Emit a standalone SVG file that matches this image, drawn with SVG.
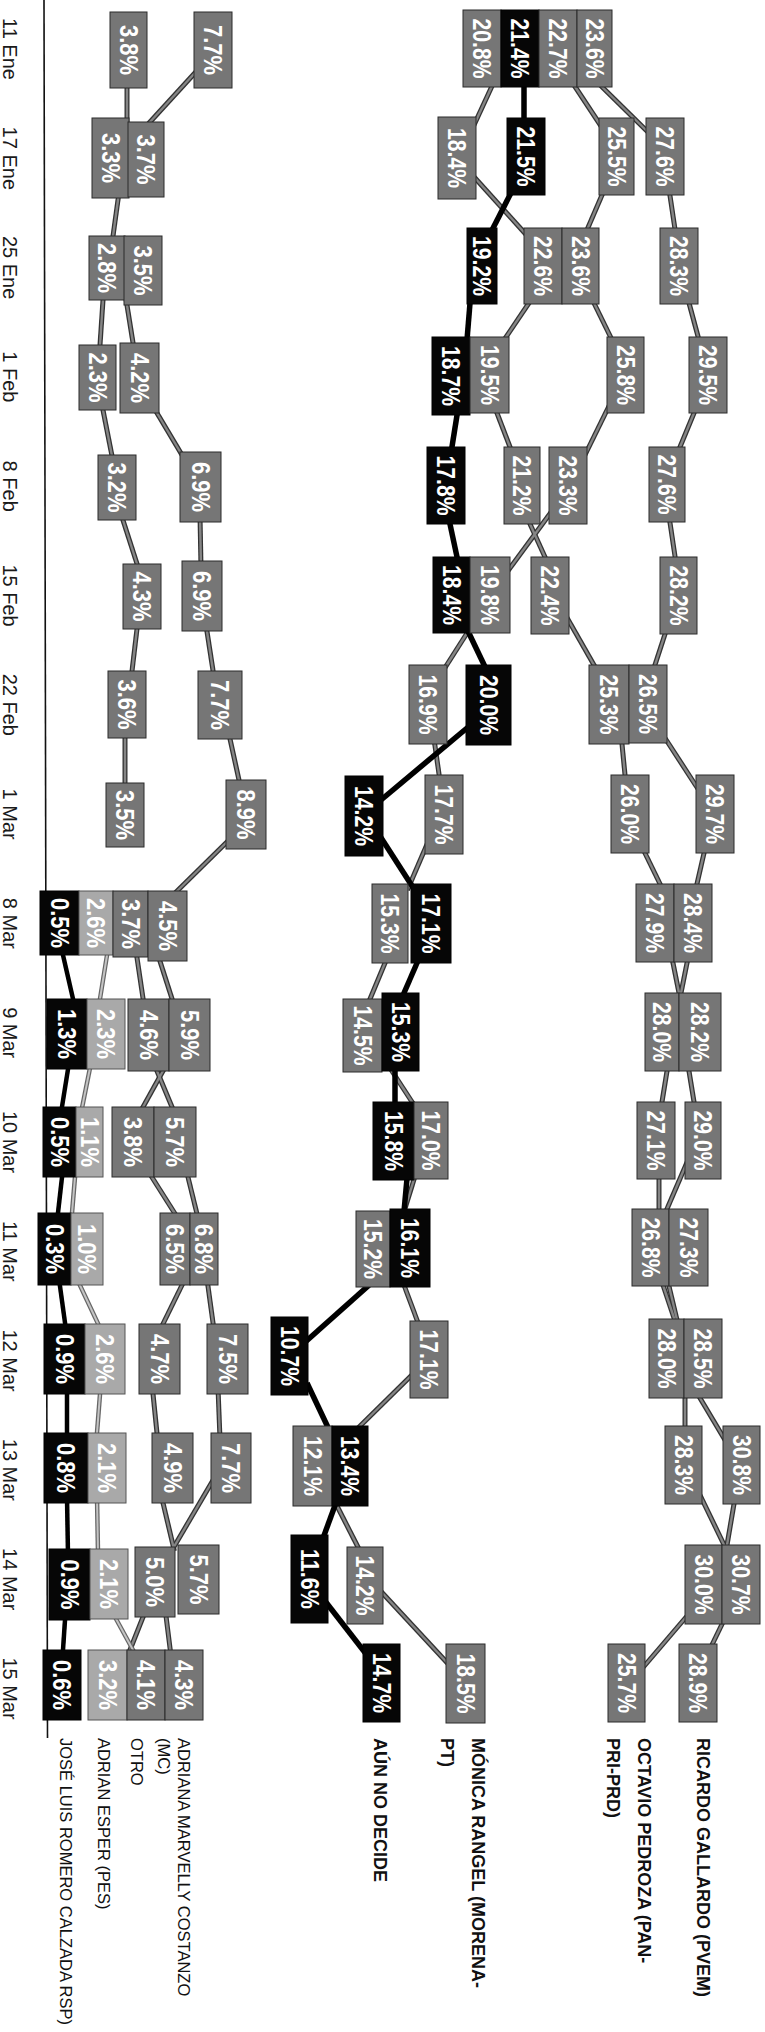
<svg xmlns="http://www.w3.org/2000/svg" xmlns:xlink="http://www.w3.org/1999/xlink" width="765" height="2032" viewBox="0 0 765 2032">
<style>
.g{fill:#767676;stroke:#2b2b2b;stroke-width:1}
.lg{fill:#a9a9a9;stroke:#555;stroke-width:1}
.k{fill:#060606;stroke:#000;stroke-width:1}
.t{font-family:"Liberation Sans",Arial,sans-serif;font-weight:bold;font-size:25px;fill:#fff;text-anchor:middle;dominant-baseline:central}
.d{font-family:"Liberation Sans",Arial,sans-serif;font-size:20px;fill:#1a1a1a;text-anchor:middle;dominant-baseline:central}
.lb{font-family:"Liberation Sans",Arial,sans-serif;font-size:18px;font-weight:bold;fill:#111;dominant-baseline:central}
.ls{font-family:"Liberation Sans",Arial,sans-serif;font-size:16.5px;fill:#111;dominant-baseline:central}
</style>
<defs>
<g id="grayLines">
<line x1="127" y1="82" x2="127" y2="124"/>
<line x1="198.5" y1="69" x2="144.5" y2="128"/>
<line x1="118.8" y1="194" x2="112.2" y2="242"/>
<line x1="103.4" y1="294" x2="99.6" y2="351"/>
<line x1="126" y1="299" x2="134" y2="349"/>
<line x1="101.8" y1="404" x2="113.2" y2="462"/>
<line x1="153.4" y1="407" x2="185.6" y2="461"/>
<line x1="121" y1="514" x2="139" y2="570"/>
<line x1="200" y1="516" x2="201" y2="567"/>
<line x1="137.7" y1="623" x2="131.3" y2="677"/>
<line x1="206" y1="625" x2="214" y2="677"/>
<line x1="125" y1="732" x2="125" y2="789"/>
<line x1="228.7" y1="733" x2="240.3" y2="786"/>
<line x1="231" y1="838" x2="171" y2="897"/>
<line x1="136" y1="951" x2="144" y2="1005"/>
<line x1="158" y1="955" x2="174" y2="1005"/>
<line x1="166.3" y1="1065" x2="139.7" y2="1113"/>
<line x1="154.5" y1="1065" x2="174.5" y2="1113"/>
<line x1="148" y1="1171" x2="179" y2="1220"/>
<line x1="186.5" y1="1171" x2="198.5" y2="1220"/>
<line x1="185" y1="1279" x2="160" y2="1330"/>
<line x1="207" y1="1279" x2="214" y2="1330"/>
<line x1="152.4" y1="1388" x2="157.6" y2="1439"/>
<line x1="218" y1="1388" x2="220" y2="1439"/>
<line x1="161.6" y1="1497" x2="174.4" y2="1551"/>
<line x1="215.5" y1="1476" x2="171.5" y2="1551"/>
<line x1="145.4" y1="1611" x2="127.6" y2="1656"/>
<line x1="165" y1="1608" x2="171" y2="1656"/>
<line x1="494.8" y1="80" x2="472.2" y2="129"/>
<line x1="469.6" y1="172" x2="527.4" y2="236"/>
<line x1="533" y1="297" x2="500" y2="346"/>
<line x1="494.7" y1="407" x2="512.3" y2="453"/>
<line x1="527.3" y1="518" x2="547.7" y2="563"/>
<line x1="553.4" y1="509" x2="505.6" y2="574"/>
<line x1="469" y1="630" x2="441" y2="674"/>
<line x1="434" y1="739" x2="440" y2="781"/>
<line x1="427.6" y1="843" x2="407.4" y2="890"/>
<line x1="387.5" y1="957" x2="367.5" y2="1005"/>
<line x1="388" y1="1065" x2="416" y2="1108"/>
<line x1="416" y1="1173" x2="403" y2="1215"/>
<line x1="401" y1="1277" x2="420" y2="1328"/>
<line x1="420" y1="1367" x2="355" y2="1431"/>
<line x1="335" y1="1502" x2="361" y2="1553"/>
<line x1="375" y1="1585" x2="452" y2="1668"/>
<line x1="570" y1="79" x2="601" y2="126"/>
<line x1="594" y1="79" x2="655" y2="139"/>
<line x1="604.6" y1="189" x2="584.4" y2="236"/>
<line x1="669" y1="189" x2="676" y2="236"/>
<line x1="591" y1="297" x2="615" y2="346"/>
<line x1="687.4" y1="297" x2="700.6" y2="346"/>
<line x1="610" y1="404" x2="582" y2="461"/>
<line x1="696.5" y1="407" x2="677.5" y2="453"/>
<line x1="669" y1="516" x2="676" y2="563"/>
<line x1="566.6" y1="617" x2="597.4" y2="671"/>
<line x1="667" y1="628" x2="653" y2="671"/>
<line x1="621.4" y1="738" x2="625.6" y2="781"/>
<line x1="663" y1="735" x2="700" y2="792"/>
<line x1="642" y1="847" x2="663" y2="890"/>
<line x1="705.4" y1="847" x2="695.6" y2="890"/>
<line x1="672" y1="958" x2="680" y2="998"/>
<line x1="688" y1="958" x2="680" y2="998"/>
<line x1="668" y1="1065" x2="661" y2="1108"/>
<line x1="688" y1="1065" x2="695" y2="1108"/>
<line x1="659" y1="1173" x2="659" y2="1215"/>
<line x1="687.6" y1="1161" x2="664.4" y2="1215"/>
<line x1="662" y1="1282" x2="676" y2="1324"/>
<line x1="668" y1="1282" x2="678" y2="1324"/>
<line x1="685" y1="1392" x2="685" y2="1432"/>
<line x1="696.4" y1="1392" x2="725.6" y2="1441"/>
<line x1="699" y1="1493" x2="727" y2="1551"/>
<line x1="735" y1="1498" x2="726" y2="1551"/>
<line x1="687" y1="1616" x2="640" y2="1671"/>
<line x1="725" y1="1618" x2="709" y2="1651"/>
</g>
<g id="lightLines">
<line x1="108" y1="949" x2="99" y2="1005"/>
<line x1="91" y1="1063" x2="81" y2="1113"/>
<line x1="75.5" y1="1171" x2="71.5" y2="1219"/>
<line x1="77" y1="1279" x2="101" y2="1330"/>
<line x1="100.5" y1="1388" x2="96.5" y2="1439"/>
<line x1="97" y1="1497" x2="98" y2="1553"/>
<line x1="111.7" y1="1611" x2="136.3" y2="1656"/>
</g>
</defs>
<g id="axis">
<line x1="44" y1="0" x2="47.5" y2="1738" stroke="#111" stroke-width="1.6"/>
</g>
<g id="connectors" fill="none" stroke-linecap="butt">
<use xlink:href="#grayLines" href="#grayLines" stroke="#333" stroke-width="5"/>
<use xlink:href="#grayLines" href="#grayLines" stroke="#858585" stroke-width="2.4"/>
<use xlink:href="#lightLines" href="#lightLines" stroke="#666" stroke-width="4.5"/>
<use xlink:href="#lightLines" href="#lightLines" stroke="#c4c4c4" stroke-width="2"/>
<g id="joseLuisLine" stroke="#000" stroke-width="4.5">
<line x1="61.6" y1="949" x2="74.4" y2="1005"/>
<line x1="69" y1="1063" x2="61" y2="1113"/>
<line x1="62.7" y1="1171" x2="57.3" y2="1219"/>
<line x1="59" y1="1279" x2="66" y2="1330"/>
<line x1="67" y1="1388" x2="67" y2="1439"/>
<line x1="67" y1="1497" x2="68" y2="1555"/>
<line x1="65.4" y1="1614" x2="62.6" y2="1656"/>
</g>
<g id="aunLine" stroke="#000" stroke-width="5.5">
<line x1="524" y1="80" x2="524" y2="124"/>
<line x1="513" y1="189" x2="489" y2="236"/>
<line x1="470.5" y1="297" x2="466.5" y2="346"/>
<line x1="458" y1="409" x2="451" y2="453"/>
<line x1="448.7" y1="518" x2="458.3" y2="563"/>
<line x1="466" y1="627" x2="487" y2="671"/>
<line x1="473" y1="723" x2="375" y2="805"/>
<line x1="378" y1="833" x2="414" y2="889"/>
<line x1="419.6" y1="957" x2="401.4" y2="999"/>
<line x1="395" y1="1065" x2="395" y2="1108"/>
<line x1="407.5" y1="1173" x2="403.5" y2="1217"/>
<line x1="395" y1="1262" x2="294" y2="1352"/>
<line x1="307" y1="1383" x2="333" y2="1438"/>
<line x1="337" y1="1500" x2="322" y2="1541"/>
<line x1="318" y1="1592" x2="370" y2="1659"/>
</g>
</g>
<g id="dates">
<text class="d" transform="translate(10,49) rotate(90)">11 Ene</text>
<text class="d" transform="translate(10,158.3) rotate(90)">17 Ene</text>
<text class="d" transform="translate(10,267.6) rotate(90)">25 Ene</text>
<text class="d" transform="translate(10,376.9) rotate(90)">1 Feb</text>
<text class="d" transform="translate(10,486.2) rotate(90)">8 Feb</text>
<text class="d" transform="translate(10,595.5) rotate(90)">15 Feb</text>
<text class="d" transform="translate(10,704.8) rotate(90)">22 Feb</text>
<text class="d" transform="translate(10,814.1) rotate(90)">1 Mar</text>
<text class="d" transform="translate(10,923.4) rotate(90)">8 Mar</text>
<text class="d" transform="translate(10,1032.7) rotate(90)">9 Mar</text>
<text class="d" transform="translate(10,1142) rotate(90)">10 Mar</text>
<text class="d" transform="translate(10,1251.3) rotate(90)">11 Mar</text>
<text class="d" transform="translate(10,1360.6) rotate(90)">12 Mar</text>
<text class="d" transform="translate(10,1469.9) rotate(90)">13 Mar</text>
<text class="d" transform="translate(10,1579.2) rotate(90)">14 Mar</text>
<text class="d" transform="translate(10,1688.5) rotate(90)">15 Mar</text>
</g>
<g id="nodes">
<g id="n0a"><rect class="g" x="110" y="12" width="37" height="76"/><text class="t" transform="translate(128.5,50) rotate(90)" textLength="50" lengthAdjust="spacingAndGlyphs">3.8%</text></g>
<g id="n0b"><rect class="g" x="194" y="12" width="38" height="76"/><text class="t" transform="translate(213,50) rotate(90)" textLength="50" lengthAdjust="spacingAndGlyphs">7.7%</text></g>
<g id="n0c"><rect class="g" x="463" y="10" width="38" height="77"/><text class="t" transform="translate(482,48.5) rotate(90)" textLength="60" lengthAdjust="spacingAndGlyphs">20.8%</text></g>
<g id="n0d"><rect class="k" x="501" y="10" width="38" height="77"/><text class="t" transform="translate(520,48.5) rotate(90)" textLength="60" lengthAdjust="spacingAndGlyphs">21.4%</text></g>
<g id="n0e"><rect class="g" x="539" y="10" width="38" height="77"/><text class="t" transform="translate(558,48.5) rotate(90)" textLength="60" lengthAdjust="spacingAndGlyphs">22.7%</text></g>
<g id="n0f"><rect class="g" x="577" y="10" width="35" height="77"/><text class="t" transform="translate(594.5,48.5) rotate(90)" textLength="60" lengthAdjust="spacingAndGlyphs">23.6%</text></g>

<g id="n1a"><rect class="g" x="92" y="118" width="37" height="80"/><text class="t" transform="translate(110.5,158) rotate(90)" textLength="50" lengthAdjust="spacingAndGlyphs">3.3%</text></g>
<g id="n1b"><rect class="g" x="128" y="122" width="36" height="75"/><text class="t" transform="translate(146,159.5) rotate(90)" textLength="50" lengthAdjust="spacingAndGlyphs">3.7%</text></g>
<g id="n1c"><rect class="g" x="438" y="117" width="38" height="82"/><text class="t" transform="translate(457,158) rotate(90)" textLength="60" lengthAdjust="spacingAndGlyphs">18.4%</text></g>
<g id="n1d"><rect class="k" x="507" y="118" width="38" height="77"/><text class="t" transform="translate(526,156.5) rotate(90)" textLength="60" lengthAdjust="spacingAndGlyphs">21.5%</text></g>
<g id="n1e"><rect class="g" x="599" y="118" width="35" height="77"/><text class="t" transform="translate(616.5,156.5) rotate(90)" textLength="60" lengthAdjust="spacingAndGlyphs">25.5%</text></g>
<g id="n1f"><rect class="g" x="646" y="118" width="38" height="77"/><text class="t" transform="translate(665,156.5) rotate(90)" textLength="60" lengthAdjust="spacingAndGlyphs">27.6%</text></g>

<g id="n2a"><rect class="g" x="89" y="236" width="36" height="64"/><text class="t" transform="translate(107,268) rotate(90)" textLength="50" lengthAdjust="spacingAndGlyphs">2.8%</text></g>
<g id="n2b"><rect class="g" x="124" y="236" width="38" height="69"/><text class="t" transform="translate(143,270.5) rotate(90)" textLength="50" lengthAdjust="spacingAndGlyphs">3.5%</text></g>
<g id="n2c"><rect class="k" x="467" y="228" width="30" height="76"/><text class="t" transform="translate(482,266) rotate(90)" textLength="60" lengthAdjust="spacingAndGlyphs">19.2%</text></g>
<g id="n2d"><rect class="g" x="524" y="228" width="38" height="76"/><text class="t" transform="translate(543,266) rotate(90)" textLength="60" lengthAdjust="spacingAndGlyphs">22.6%</text></g>
<g id="n2e"><rect class="g" x="562" y="228" width="37" height="76"/><text class="t" transform="translate(580.5,266) rotate(90)" textLength="60" lengthAdjust="spacingAndGlyphs">23.6%</text></g>
<g id="n2f"><rect class="g" x="660" y="228" width="38" height="76"/><text class="t" transform="translate(679,266) rotate(90)" textLength="60" lengthAdjust="spacingAndGlyphs">28.3%</text></g>

<g id="n3a"><rect class="g" x="79" y="345" width="37" height="65"/><text class="t" transform="translate(97.5,377.5) rotate(90)" textLength="50" lengthAdjust="spacingAndGlyphs">2.3%</text></g>
<g id="n3b"><rect class="g" x="120" y="343" width="39" height="70"/><text class="t" transform="translate(139.5,378) rotate(90)" textLength="50" lengthAdjust="spacingAndGlyphs">4.2%</text></g>
<g id="n3c"><rect class="k" x="432" y="337" width="38" height="78"/><text class="t" transform="translate(451,376) rotate(90)" textLength="60" lengthAdjust="spacingAndGlyphs">18.7%</text></g>
<g id="n3d"><rect class="g" x="470" y="337" width="39" height="76"/><text class="t" transform="translate(489.5,375) rotate(90)" textLength="60" lengthAdjust="spacingAndGlyphs">19.5%</text></g>
<g id="n3e"><rect class="g" x="607" y="337" width="37" height="76"/><text class="t" transform="translate(625.5,375) rotate(90)" textLength="60" lengthAdjust="spacingAndGlyphs">25.8%</text></g>
<g id="n3f"><rect class="g" x="689" y="337" width="38" height="76"/><text class="t" transform="translate(708,375) rotate(90)" textLength="60" lengthAdjust="spacingAndGlyphs">29.5%</text></g>

<g id="n4a"><rect class="g" x="98" y="455" width="38" height="65"/><text class="t" transform="translate(117,487.5) rotate(90)" textLength="50" lengthAdjust="spacingAndGlyphs">3.2%</text></g>
<g id="n4b"><rect class="g" x="180" y="452" width="41" height="70"/><text class="t" transform="translate(200.5,487) rotate(90)" textLength="50" lengthAdjust="spacingAndGlyphs">6.9%</text></g>
<g id="n4c"><rect class="k" x="427" y="447" width="38" height="77"/><text class="t" transform="translate(446,485.5) rotate(90)" textLength="60" lengthAdjust="spacingAndGlyphs">17.8%</text></g>
<g id="n4d"><rect class="g" x="504" y="447" width="36" height="77"/><text class="t" transform="translate(522,485.5) rotate(90)" textLength="60" lengthAdjust="spacingAndGlyphs">21.2%</text></g>
<g id="n4e"><rect class="g" x="549" y="447" width="38" height="77"/><text class="t" transform="translate(568,485.5) rotate(90)" textLength="60" lengthAdjust="spacingAndGlyphs">23.3%</text></g>
<g id="n4f"><rect class="g" x="649" y="447" width="36" height="75"/><text class="t" transform="translate(667,484.5) rotate(90)" textLength="60" lengthAdjust="spacingAndGlyphs">27.6%</text></g>

<g id="n5a"><rect class="g" x="123" y="564" width="38" height="65"/><text class="t" transform="translate(142,596.5) rotate(90)" textLength="50" lengthAdjust="spacingAndGlyphs">4.3%</text></g>
<g id="n5b"><rect class="g" x="182" y="561" width="40" height="70"/><text class="t" transform="translate(202,596) rotate(90)" textLength="50" lengthAdjust="spacingAndGlyphs">6.9%</text></g>
<g id="n5c"><rect class="k" x="433" y="557" width="37" height="76"/><text class="t" transform="translate(451.5,595) rotate(90)" textLength="60" lengthAdjust="spacingAndGlyphs">18.4%</text></g>
<g id="n5d"><rect class="g" x="470" y="557" width="40" height="76"/><text class="t" transform="translate(490,595) rotate(90)" textLength="60" lengthAdjust="spacingAndGlyphs">19.8%</text></g>
<g id="n5e"><rect class="g" x="531" y="557" width="38" height="77"/><text class="t" transform="translate(550,595.5) rotate(90)" textLength="60" lengthAdjust="spacingAndGlyphs">22.4%</text></g>
<g id="n5f"><rect class="g" x="660" y="557" width="37" height="77"/><text class="t" transform="translate(678.5,595.5) rotate(90)" textLength="60" lengthAdjust="spacingAndGlyphs">28.2%</text></g>

<g id="n6a"><rect class="g" x="108" y="671" width="38" height="67"/><text class="t" transform="translate(127,704.5) rotate(90)" textLength="50" lengthAdjust="spacingAndGlyphs">3.6%</text></g>
<g id="n6b"><rect class="g" x="198" y="671" width="44" height="68"/><text class="t" transform="translate(220,705) rotate(90)" textLength="50" lengthAdjust="spacingAndGlyphs">7.7%</text></g>
<g id="n6c"><rect class="g" x="409" y="665" width="38" height="79"/><text class="t" transform="translate(428,704.5) rotate(90)" textLength="60" lengthAdjust="spacingAndGlyphs">16.9%</text></g>
<g id="n6d"><rect class="k" x="466" y="665" width="45" height="80"/><text class="t" transform="translate(488.5,705) rotate(90)" textLength="60" lengthAdjust="spacingAndGlyphs">20.0%</text></g>
<g id="n6e"><rect class="g" x="589" y="665" width="40" height="79"/><text class="t" transform="translate(609,704.5) rotate(90)" textLength="60" lengthAdjust="spacingAndGlyphs">25.3%</text></g>
<g id="n6f"><rect class="g" x="629" y="665" width="38" height="78"/><text class="t" transform="translate(648,704) rotate(90)" textLength="60" lengthAdjust="spacingAndGlyphs">26.5%</text></g>

<g id="n7a"><rect class="g" x="106" y="783" width="38" height="64"/><text class="t" transform="translate(125,815) rotate(90)" textLength="50" lengthAdjust="spacingAndGlyphs">3.5%</text></g>
<g id="n7b"><rect class="g" x="226" y="780" width="40" height="69"/><text class="t" transform="translate(246,814.5) rotate(90)" textLength="50" lengthAdjust="spacingAndGlyphs">8.9%</text></g>
<g id="n7c"><rect class="k" x="345" y="776" width="38" height="80"/><text class="t" transform="translate(364,816) rotate(90)" textLength="60" lengthAdjust="spacingAndGlyphs">14.2%</text></g>
<g id="n7d"><rect class="g" x="425" y="775" width="38" height="79"/><text class="t" transform="translate(444,814.5) rotate(90)" textLength="60" lengthAdjust="spacingAndGlyphs">17.7%</text></g>
<g id="n7e"><rect class="g" x="611" y="775" width="38" height="78"/><text class="t" transform="translate(630,814) rotate(90)" textLength="60" lengthAdjust="spacingAndGlyphs">26.0%</text></g>
<g id="n7f"><rect class="g" x="696" y="775" width="38" height="78"/><text class="t" transform="translate(715,814) rotate(90)" textLength="60" lengthAdjust="spacingAndGlyphs">29.7%</text></g>

<g id="n8a"><rect class="k" x="40" y="891" width="39" height="64"/><text class="t" transform="translate(59.5,923) rotate(90)" textLength="50" lengthAdjust="spacingAndGlyphs">0.5%</text></g>
<g id="n8b"><rect class="lg" x="79" y="891" width="34" height="64"/><text class="t" transform="translate(96,923) rotate(90)" textLength="50" lengthAdjust="spacingAndGlyphs">2.6%</text></g>
<g id="n8c"><rect class="g" x="113" y="891" width="35" height="66"/><text class="t" transform="translate(130.5,924) rotate(90)" textLength="50" lengthAdjust="spacingAndGlyphs">3.7%</text></g>
<g id="n8d"><rect class="g" x="148" y="891" width="39" height="70"/><text class="t" transform="translate(167.5,926) rotate(90)" textLength="50" lengthAdjust="spacingAndGlyphs">4.5%</text></g>
<g id="n8e"><rect class="g" x="372" y="884" width="36" height="79"/><text class="t" transform="translate(390,923.5) rotate(90)" textLength="60" lengthAdjust="spacingAndGlyphs">15.3%</text></g>
<g id="n8f"><rect class="k" x="411" y="884" width="40" height="79"/><text class="t" transform="translate(431,923.5) rotate(90)" textLength="60" lengthAdjust="spacingAndGlyphs">17.1%</text></g>
<g id="n8g"><rect class="g" x="636" y="884" width="38" height="78"/><text class="t" transform="translate(655,923) rotate(90)" textLength="60" lengthAdjust="spacingAndGlyphs">27.9%</text></g>
<g id="n8h"><rect class="g" x="674" y="884" width="38" height="78"/><text class="t" transform="translate(693,923) rotate(90)" textLength="60" lengthAdjust="spacingAndGlyphs">28.4%</text></g>

<g id="n9a"><rect class="k" x="47" y="999" width="40" height="70"/><text class="t" transform="translate(67,1034) rotate(90)" textLength="50" lengthAdjust="spacingAndGlyphs">1.3%</text></g>
<g id="n9b"><rect class="lg" x="87" y="999" width="38" height="70"/><text class="t" transform="translate(106,1034) rotate(90)" textLength="50" lengthAdjust="spacingAndGlyphs">2.3%</text></g>
<g id="n9c"><rect class="g" x="128" y="999" width="41" height="72"/><text class="t" transform="translate(148.5,1035) rotate(90)" textLength="50" lengthAdjust="spacingAndGlyphs">4.6%</text></g>
<g id="n9d"><rect class="g" x="169" y="999" width="41" height="72"/><text class="t" transform="translate(189.5,1035) rotate(90)" textLength="50" lengthAdjust="spacingAndGlyphs">5.9%</text></g>
<g id="n9e"><rect class="g" x="343" y="999" width="39" height="73"/><text class="t" transform="translate(362.5,1035.5) rotate(90)" textLength="60" lengthAdjust="spacingAndGlyphs">14.5%</text></g>
<g id="n9f"><rect class="k" x="382" y="993" width="37" height="78"/><text class="t" transform="translate(400.5,1032) rotate(90)" textLength="60" lengthAdjust="spacingAndGlyphs">15.3%</text></g>
<g id="n9g"><rect class="g" x="645" y="993" width="34" height="78"/><text class="t" transform="translate(662,1032) rotate(90)" textLength="60" lengthAdjust="spacingAndGlyphs">28.0%</text></g>
<g id="n9h"><rect class="g" x="679" y="993" width="42" height="78"/><text class="t" transform="translate(700,1032) rotate(90)" textLength="60" lengthAdjust="spacingAndGlyphs">28.2%</text></g>

<g id="n10a"><rect class="k" x="43" y="1107" width="33" height="70"/><text class="t" transform="translate(59.5,1142) rotate(90)" textLength="50" lengthAdjust="spacingAndGlyphs">0.5%</text></g>
<g id="n10b"><rect class="lg" x="76" y="1107" width="27" height="70"/><text class="t" transform="translate(89.5,1142) rotate(90)" textLength="50" lengthAdjust="spacingAndGlyphs">1.1%</text></g>
<g id="n10c"><rect class="g" x="112" y="1107" width="42" height="70"/><text class="t" transform="translate(133,1142) rotate(90)" textLength="50" lengthAdjust="spacingAndGlyphs">3.8%</text></g>
<g id="n10d"><rect class="g" x="154" y="1107" width="42" height="70"/><text class="t" transform="translate(175,1142) rotate(90)" textLength="50" lengthAdjust="spacingAndGlyphs">5.7%</text></g>
<g id="n10e"><rect class="k" x="373" y="1102" width="41" height="78"/><text class="t" transform="translate(393.5,1141) rotate(90)" textLength="60" lengthAdjust="spacingAndGlyphs">15.8%</text></g>
<g id="n10f"><rect class="g" x="414" y="1102" width="34" height="77"/><text class="t" transform="translate(431,1140.5) rotate(90)" textLength="60" lengthAdjust="spacingAndGlyphs">17.0%</text></g>
<g id="n10g"><rect class="g" x="637" y="1102" width="38" height="77"/><text class="t" transform="translate(656,1140.5) rotate(90)" textLength="60" lengthAdjust="spacingAndGlyphs">27.1%</text></g>
<g id="n10h"><rect class="g" x="685" y="1102" width="36" height="77"/><text class="t" transform="translate(703,1140.5) rotate(90)" textLength="60" lengthAdjust="spacingAndGlyphs">29.0%</text></g>

<g id="n11a"><rect class="k" x="38" y="1213" width="33" height="72"/><text class="t" transform="translate(54.5,1249) rotate(90)" textLength="50" lengthAdjust="spacingAndGlyphs">0.3%</text></g>
<g id="n11b"><rect class="lg" x="71" y="1213" width="32" height="72"/><text class="t" transform="translate(87,1249) rotate(90)" textLength="50" lengthAdjust="spacingAndGlyphs">1.0%</text></g>
<g id="n11c"><rect class="g" x="160" y="1213" width="30" height="72"/><text class="t" transform="translate(175,1249) rotate(90)" textLength="50" lengthAdjust="spacingAndGlyphs">6.5%</text></g>
<g id="n11d"><rect class="g" x="190" y="1213" width="28" height="72"/><text class="t" transform="translate(204,1249) rotate(90)" textLength="50" lengthAdjust="spacingAndGlyphs">6.8%</text></g>
<g id="n11e"><rect class="g" x="356" y="1211" width="34" height="76"/><text class="t" transform="translate(373,1249) rotate(90)" textLength="60" lengthAdjust="spacingAndGlyphs">15.2%</text></g>
<g id="n11f"><rect class="k" x="390" y="1209" width="40" height="78"/><text class="t" transform="translate(410,1248) rotate(90)" textLength="60" lengthAdjust="spacingAndGlyphs">16.1%</text></g>
<g id="n11g"><rect class="g" x="632" y="1209" width="37" height="77"/><text class="t" transform="translate(650.5,1247.5) rotate(90)" textLength="60" lengthAdjust="spacingAndGlyphs">26.8%</text></g>
<g id="n11h"><rect class="g" x="669" y="1209" width="39" height="77"/><text class="t" transform="translate(688.5,1247.5) rotate(90)" textLength="60" lengthAdjust="spacingAndGlyphs">27.3%</text></g>

<g id="n12a"><rect class="k" x="44" y="1324" width="41" height="70"/><text class="t" transform="translate(64.5,1359) rotate(90)" textLength="50" lengthAdjust="spacingAndGlyphs">0.9%</text></g>
<g id="n12b"><rect class="lg" x="85" y="1324" width="40" height="70"/><text class="t" transform="translate(105,1359) rotate(90)" textLength="50" lengthAdjust="spacingAndGlyphs">2.6%</text></g>
<g id="n12c"><rect class="g" x="139" y="1324" width="41" height="70"/><text class="t" transform="translate(159.5,1359) rotate(90)" textLength="50" lengthAdjust="spacingAndGlyphs">4.7%</text></g>
<g id="n12d"><rect class="g" x="207" y="1324" width="41" height="70"/><text class="t" transform="translate(227.5,1359) rotate(90)" textLength="50" lengthAdjust="spacingAndGlyphs">7.5%</text></g>
<g id="n12e"><rect class="k" x="271" y="1317" width="37" height="78"/><text class="t" transform="translate(289.5,1356) rotate(90)" textLength="60" lengthAdjust="spacingAndGlyphs">10.7%</text></g>
<g id="n12f"><rect class="g" x="410" y="1321" width="38" height="77"/><text class="t" transform="translate(429,1359.5) rotate(90)" textLength="60" lengthAdjust="spacingAndGlyphs">17.1%</text></g>
<g id="n12g"><rect class="g" x="649" y="1319" width="35" height="79"/><text class="t" transform="translate(666.5,1358.5) rotate(90)" textLength="60" lengthAdjust="spacingAndGlyphs">28.0%</text></g>
<g id="n12h"><rect class="g" x="684" y="1319" width="38" height="79"/><text class="t" transform="translate(703,1358.5) rotate(90)" textLength="60" lengthAdjust="spacingAndGlyphs">28.5%</text></g>

<g id="n13a"><rect class="k" x="44" y="1433" width="44" height="70"/><text class="t" transform="translate(66,1468) rotate(90)" textLength="50" lengthAdjust="spacingAndGlyphs">0.8%</text></g>
<g id="n13b"><rect class="lg" x="88" y="1433" width="38" height="70"/><text class="t" transform="translate(107,1468) rotate(90)" textLength="50" lengthAdjust="spacingAndGlyphs">2.1%</text></g>
<g id="n13c"><rect class="g" x="152" y="1433" width="41" height="70"/><text class="t" transform="translate(172.5,1468) rotate(90)" textLength="50" lengthAdjust="spacingAndGlyphs">4.9%</text></g>
<g id="n13d"><rect class="g" x="211" y="1433" width="40" height="70"/><text class="t" transform="translate(231,1468) rotate(90)" textLength="50" lengthAdjust="spacingAndGlyphs">7.7%</text></g>
<g id="n13e"><rect class="g" x="293" y="1426" width="39" height="80"/><text class="t" transform="translate(312.5,1466) rotate(90)" textLength="60" lengthAdjust="spacingAndGlyphs">12.1%</text></g>
<g id="n13f"><rect class="k" x="332" y="1426" width="36" height="80"/><text class="t" transform="translate(350,1466) rotate(90)" textLength="60" lengthAdjust="spacingAndGlyphs">13.4%</text></g>
<g id="n13g"><rect class="g" x="665" y="1426" width="37" height="78"/><text class="t" transform="translate(683.5,1465) rotate(90)" textLength="60" lengthAdjust="spacingAndGlyphs">28.3%</text></g>
<g id="n13h"><rect class="g" x="723" y="1426" width="37" height="78"/><text class="t" transform="translate(741.5,1465) rotate(90)" textLength="60" lengthAdjust="spacingAndGlyphs">30.8%</text></g>

<g id="n14a"><rect class="k" x="49" y="1549" width="41" height="71"/><text class="t" transform="translate(69.5,1584.5) rotate(90)" textLength="50" lengthAdjust="spacingAndGlyphs">0.9%</text></g>
<g id="n14b"><rect class="lg" x="90" y="1549" width="38" height="70"/><text class="t" transform="translate(109,1584) rotate(90)" textLength="50" lengthAdjust="spacingAndGlyphs">2.1%</text></g>
<g id="n14c"><rect class="g" x="135" y="1547" width="40" height="70"/><text class="t" transform="translate(155,1582) rotate(90)" textLength="50" lengthAdjust="spacingAndGlyphs">5.0%</text></g>
<g id="n14d"><rect class="g" x="178" y="1545" width="41" height="69"/><text class="t" transform="translate(198.5,1579.5) rotate(90)" textLength="50" lengthAdjust="spacingAndGlyphs">5.7%</text></g>
<g id="n14e"><rect class="k" x="291" y="1535" width="37" height="88"/><text class="t" transform="translate(309.5,1579) rotate(90)" textLength="60" lengthAdjust="spacingAndGlyphs">11.6%</text></g>
<g id="n14f"><rect class="g" x="347" y="1547" width="36" height="77"/><text class="t" transform="translate(365,1585.5) rotate(90)" textLength="60" lengthAdjust="spacingAndGlyphs">14.2%</text></g>
<g id="n14g"><rect class="g" x="685" y="1545" width="37" height="79"/><text class="t" transform="translate(703.5,1584.5) rotate(90)" textLength="60" lengthAdjust="spacingAndGlyphs">30.0%</text></g>
<g id="n14h"><rect class="g" x="722" y="1545" width="38" height="79"/><text class="t" transform="translate(741,1584.5) rotate(90)" textLength="60" lengthAdjust="spacingAndGlyphs">30.7%</text></g>

<g id="n15a"><rect class="k" x="43" y="1650" width="38" height="70"/><text class="t" transform="translate(62,1685) rotate(90)" textLength="50" lengthAdjust="spacingAndGlyphs">0.6%</text></g>
<g id="n15b"><rect class="lg" x="88" y="1650" width="39" height="70"/><text class="t" transform="translate(107.5,1685) rotate(90)" textLength="50" lengthAdjust="spacingAndGlyphs">3.2%</text></g>
<g id="n15c"><rect class="g" x="127" y="1650" width="38" height="70"/><text class="t" transform="translate(146,1685) rotate(90)" textLength="50" lengthAdjust="spacingAndGlyphs">4.1%</text></g>
<g id="n15d"><rect class="g" x="165" y="1650" width="38" height="70"/><text class="t" transform="translate(184,1685) rotate(90)" textLength="50" lengthAdjust="spacingAndGlyphs">4.3%</text></g>
<g id="n15e"><rect class="k" x="363" y="1644" width="37" height="78"/><text class="t" transform="translate(381.5,1683) rotate(90)" textLength="60" lengthAdjust="spacingAndGlyphs">14.7%</text></g>
<g id="n15f"><rect class="g" x="446" y="1644" width="39" height="79"/><text class="t" transform="translate(465.5,1683.5) rotate(90)" textLength="60" lengthAdjust="spacingAndGlyphs">18.5%</text></g>
<g id="n15g"><rect class="g" x="608" y="1644" width="37" height="78"/><text class="t" transform="translate(626.5,1683) rotate(90)" textLength="60" lengthAdjust="spacingAndGlyphs">25.7%</text></g>
<g id="n15h"><rect class="g" x="679" y="1644" width="38" height="78"/><text class="t" transform="translate(698,1683) rotate(90)" textLength="60" lengthAdjust="spacingAndGlyphs">28.9%</text></g>
</g>
<g id="legend">
<text class="lb" transform="translate(703,1738) rotate(90)">RICARDO GALLARDO (PVEM)</text>
<text class="lb" transform="translate(644,1738) rotate(90)">OCTAVIO PEDROZA (PAN-</text>
<text class="lb" transform="translate(613,1738) rotate(90)">PRI-PRD)</text>
<text class="lb" transform="translate(478,1738) rotate(90)">MÓNICA RANGEL (MORENA-</text>
<text class="lb" transform="translate(447,1738) rotate(90)">PT)</text>
<text class="lb" transform="translate(380,1738) rotate(90)">AÚN NO DECIDE</text>
<text class="ls" transform="translate(184,1738) rotate(90)">ADRIANA MARVELLY COSTANZO</text>
<text class="ls" transform="translate(164,1738) rotate(90)">(MC)</text>
<text class="ls" transform="translate(137,1738) rotate(90)">OTRO</text>
<text class="ls" transform="translate(104,1738) rotate(90)">ADRIAN ESPER (PES)</text>
<text class="ls" transform="translate(66,1738) rotate(90)">JOSÉ LUIS ROMERO CALZADA  RSP)</text>
</g>
</svg>
